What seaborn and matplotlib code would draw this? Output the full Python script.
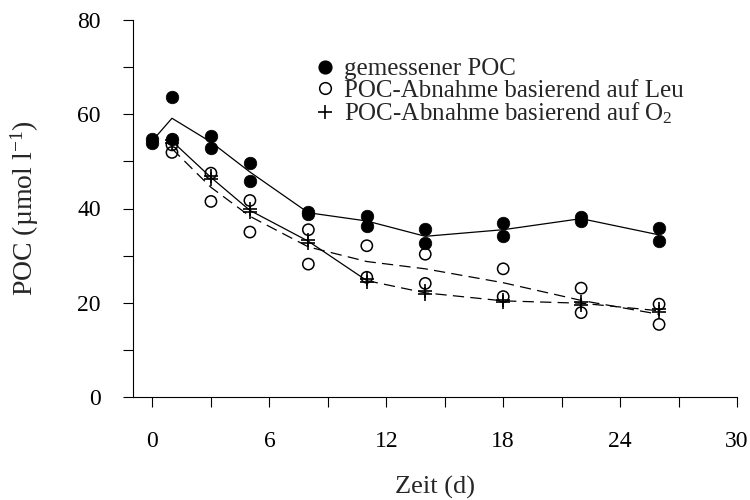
import numpy as np
import pandas as pd
import matplotlib
matplotlib.use("Agg")
import matplotlib.pyplot as plt
import seaborn as sns
from matplotlib.lines import Line2D

# ---- data ----
tage = [0, 1, 3, 5, 8, 11, 14, 18, 22, 26]
poc_a = [54.0, 63.6, 55.3, 49.6, 39.3, 38.5, 35.6, 36.9, 38.3, 35.8]
poc_b = [54.8, 54.7, 52.9, 45.9, 38.9, 36.2, 32.6, 34.1, 37.4, 33.0]

tage_mod = [1, 3, 5, 8, 11, 14, 18, 22, 26]
leu_a = [53.5, 47.5, 41.7, 35.5, 32.1, 30.3, 27.2, 23.1, 19.7]
leu_b = [51.9, 41.5, 35.0, 28.2, 25.4, 24.1, 21.3, 17.9, 15.4]
o2_a = [54.6, 47.0, 40.0, 33.4, 25.0, 22.4, 20.6, 20.2, 18.6]
o2_b = [54.0, 46.2, 39.2, 32.7, 24.4, 21.8, 20.2, 19.6, 18.0]

x_ticks = [0, 3, 6, 9, 12, 15, 18, 21, 24, 27, 30]
x_labels = ["0", "", "6", "", "12", "", "18", "", "24", "", "30"]
y_ticks = [0, 10, 20, 30, 40, 50, 60, 70, 80]
y_labels = ["0", "", "20", "", "40", "", "60", "", "80"]

labels = ["gemessener POC",
          "POC-Abnahme basierend auf Leu",
          "POC-Abnahme basierend auf O$\\mathregular{_2}$"]

poc = pd.DataFrame({"Zeit": tage * 2, "POC": poc_a + poc_b})
leu = pd.DataFrame({"Zeit": tage_mod * 2, "POC": leu_a + leu_b})
o2 = pd.DataFrame({"Zeit": tage_mod * 2, "POC": o2_a + o2_b})

sns.set_style("ticks")
plt.rcParams["font.family"] = ["Liberation Serif", "DejaVu Serif"]
plt.rcParams["mathtext.fontset"] = "custom"
plt.rcParams["mathtext.rm"] = "Liberation Serif"
plt.rcParams["mathtext.it"] = "Liberation Serif:italic"

fig = plt.figure(figsize=(7.5, 5), dpi=100)
ax = fig.add_axes([133 / 750, 1 - 397 / 500, (737 - 133) / 750, (397 - 20) / 500])

lw = 0.9
dash = (0, (9, 5))
sns.lineplot(data=poc, x="Zeit", y="POC", estimator="mean", errorbar=None,
             color="black", lw=lw, ax=ax, zorder=2)
sns.lineplot(data=leu, x="Zeit", y="POC", estimator="mean", errorbar=None,
             color="black", lw=lw, linestyle=dash, ax=ax, zorder=2)
sns.lineplot(data=o2[o2["Zeit"] <= 11], x="Zeit", y="POC", estimator="mean",
             errorbar=None, color="black", lw=lw, ax=ax, zorder=2)
sns.lineplot(data=o2[o2["Zeit"] >= 11], x="Zeit", y="POC", estimator="mean",
             errorbar=None, color="black", lw=lw, linestyle=dash, ax=ax, zorder=2)

sns.scatterplot(data=poc, x="Zeit", y="POC", marker="o", s=82, color="black",
                edgecolor="black", linewidth=0.5, ax=ax, zorder=3)
sns.scatterplot(data=leu, x="Zeit", y="POC", marker="o", s=66,
                facecolors="none", edgecolor="black", linewidth=1.1, ax=ax, zorder=4)
sns.scatterplot(data=o2, x="Zeit", y="POC", marker="+", s=100, color="black",
                linewidth=1.2, ax=ax, zorder=5)

ax.set_xlim(-1, 30)
ax.set_ylim(0, 80)
ax.set_xticks(x_ticks)
ax.set_xticklabels(x_labels)
ax.set_yticks(y_ticks)
ax.set_yticklabels(y_labels)
ax.tick_params(axis="both", direction="out", length=7.2, width=0.8,
               labelsize=17, colors="black")
ax.tick_params(axis="y", pad=16)
ax.tick_params(axis="x", pad=17)
for s in ["top", "right"]:
    ax.spines[s].set_visible(False)
for s in ["left", "bottom"]:
    ax.spines[s].set_linewidth(0.8)
    ax.spines[s].set_color("black")

ax.set_xlabel("Zeit (d)", fontsize=19)
ax.set_ylabel("POC (µmol l$\\mathregular{^{-1}}$)", fontsize=20)
ax.xaxis.set_label_coords(0.5, -0.21)
ax.yaxis.set_label_coords(-0.152, 0.5)

handles = [
    Line2D([], [], ls="none", marker="o", markersize=9.2, color="black"),
    Line2D([], [], ls="none", marker="o", markersize=8.4, mfc="none", mec="black", mew=1.1),
    Line2D([], [], ls="none", marker="+", markersize=10, color="black", mew=1.2),
]
ax.legend(handles, labels, loc="upper left", bbox_to_anchor=(315 / 750, 1 - 58 / 500),
          bbox_transform=fig.transFigure, frameon=False, fontsize=18,
          handlelength=0.8, handletextpad=0.35, labelspacing=-0.05,
          borderpad=0, borderaxespad=0)

fig.savefig("out.png", dpi=100)
